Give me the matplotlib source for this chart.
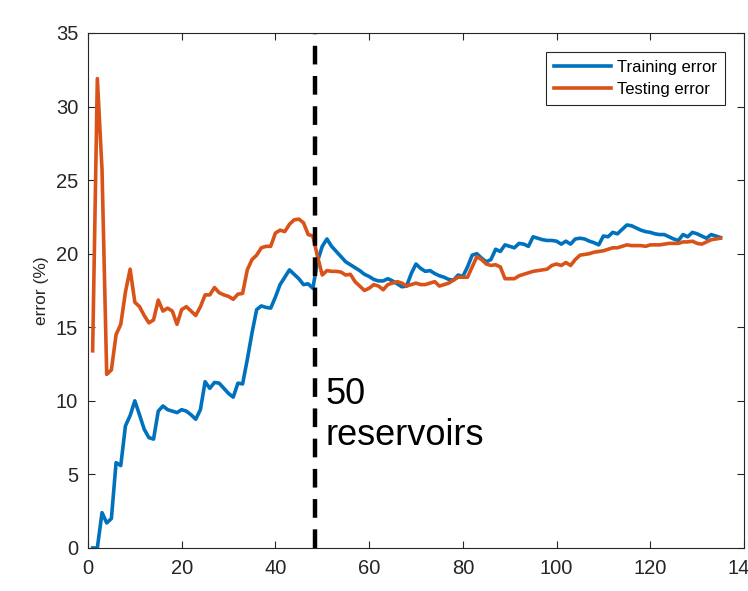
import matplotlib
matplotlib.use("Agg")
import matplotlib.pyplot as plt
import numpy as np

plt.rcParams['font.family'] = ['Liberation Sans', 'DejaVu Sans']

x_vals = list(range(1, 136))

training_error = [
    0.0, 0.0, 2.4, 1.7, 2.0, 5.8, 5.6, 8.3, 9.0, 10.0,
    9.05, 8.07, 7.5, 7.4, 9.3, 9.65, 9.4, 9.3, 9.2, 9.4,
    9.3, 9.05, 8.75, 9.4, 11.3, 10.85, 11.25, 11.2, 10.85, 10.5,
    10.25, 11.2, 11.15, 12.8, 14.6, 16.2, 16.45, 16.35, 16.3, 17.05,
    17.9, 18.4, 18.9, 18.6, 18.3, 17.9, 17.95, 17.65, 19.5, 20.5,
    21.0, 20.5, 20.15, 19.8, 19.45, 19.25, 19.05, 18.85, 18.6, 18.45,
    18.25, 18.15, 18.15, 18.3, 18.15, 17.95, 17.75, 17.8, 18.65, 19.3,
    19.0, 18.8, 18.85, 18.65, 18.5, 18.4, 18.25, 18.2, 18.55, 18.45,
    19.1, 19.9, 20.0, 19.7, 19.45, 19.6, 20.3, 20.15, 20.6, 20.5,
    20.4, 20.7, 20.65, 20.5, 21.15, 21.05, 20.95, 20.9, 20.9, 20.85,
    20.65, 20.85, 20.65, 21.0, 21.05, 21.0, 20.85, 20.75, 20.6, 21.2,
    21.15, 21.45, 21.35, 21.65, 21.95, 21.9, 21.75, 21.6, 21.5, 21.45,
    21.35, 21.3, 21.3, 21.15, 21.0, 20.9, 21.3, 21.15, 21.45, 21.35,
    21.2, 21.05, 21.3, 21.2, 21.1,
]

testing_error = [
    13.4, 31.9, 25.7, 11.8, 12.1, 14.5, 15.2, 17.4, 18.95, 16.7,
    16.4, 15.8, 15.3, 15.5, 16.85, 16.1, 16.3, 16.1, 15.2, 16.2,
    16.4, 16.1, 15.8, 16.4, 17.2, 17.2, 17.7, 17.35, 17.2, 17.1,
    16.9, 17.25, 17.3, 18.9, 19.6, 19.9, 20.4, 20.5, 20.5, 21.4,
    21.6, 21.5, 22.0, 22.3, 22.35, 22.1, 21.3, 21.2, 19.8, 18.55,
    18.85, 18.8, 18.8, 18.75, 18.55, 18.6, 18.1, 17.8, 17.5, 17.65,
    17.9, 17.8, 17.55, 17.9, 18.0, 18.1, 18.0, 17.8, 17.9, 18.0,
    17.9, 17.9, 18.0, 18.1, 17.8, 17.9, 18.0, 18.2, 18.4, 18.4,
    18.4, 19.1, 19.8, 19.6, 19.3, 19.2, 19.25, 19.1, 18.3, 18.3,
    18.3, 18.5, 18.6, 18.7, 18.8, 18.85, 18.9, 18.95, 19.2, 19.3,
    19.2, 19.4, 19.2, 19.6, 19.9, 19.95, 20.0, 20.1, 20.15, 20.2,
    20.3, 20.4, 20.4, 20.5, 20.6, 20.55, 20.55, 20.55, 20.5, 20.6,
    20.6, 20.6, 20.65, 20.7, 20.7, 20.7, 20.8, 20.8, 20.85, 20.7,
    20.65, 20.8, 20.95, 21.0, 21.05,
]

x_ticks = [0, 20, 40, 60, 80, 100, 120, 140]
y_ticks = [0, 5, 10, 15, 20, 25, 30, 35]
marker_x = 48.5
annotation = "50\nreservoirs"

fig = plt.figure(figsize=(7.48, 5.91), dpi=100)
ax = fig.add_axes([0.1176, 0.0728, 0.877, 0.8714])

ax.plot(x_vals, training_error, color='#0072BD', lw=2.6, label='Training error')
ax.plot(x_vals, testing_error, color='#D95319', lw=2.6, label='Testing error')
ax.axvline(marker_x, color='black', lw=3.2, dashes=(4.2, 2.6))

ax.set_xlim(0, 140)
ax.set_ylim(0, 35)
ax.set_xticks(x_ticks)
ax.set_yticks(y_ticks)
ax.tick_params(direction='in', top=True, right=True, length=5, width=0.8,
               colors='#262626', labelsize=14.5)
ax.tick_params(axis='x', pad=8)
ax.tick_params(axis='y', pad=7)
for s in ax.spines.values():
    s.set_color('#262626')
    s.set_linewidth(0.8)

ax.set_ylabel('error (%)', fontsize=12.5, color='#262626', labelpad=5)

ax.text(50.6, 11.6, annotation, fontsize=26, va='top', ha='left',
        linespacing=1.2, color='black')

leg = ax.legend(loc='upper right', fontsize=12, frameon=True, fancybox=False,
                edgecolor='#262626', framealpha=1, handlelength=3.4,
                borderaxespad=1.15, labelspacing=0.45, handletextpad=0.4,
                borderpad=0.45)
leg.get_frame().set_linewidth(0.8)

fig.savefig('out.png', dpi=100)
